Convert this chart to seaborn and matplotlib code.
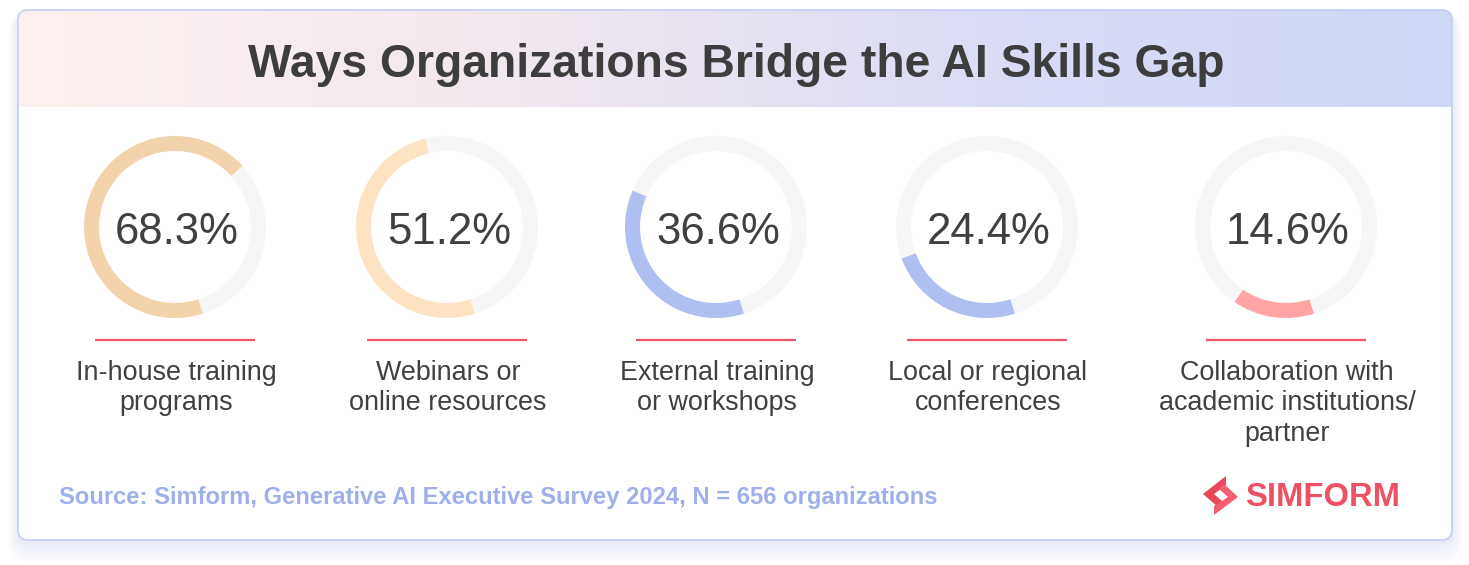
import numpy as np
import matplotlib
matplotlib.use("Agg")
import matplotlib.pyplot as plt
from matplotlib.patches import FancyBboxPatch, Polygon
from matplotlib.colors import LinearSegmentedColormap
import seaborn as sns

# ---- data ----
title = "Ways Organizations Bridge the AI Skills Gap"
values = [68.3, 51.2, 36.6, 24.4, 14.6]
value_labels = ["68.3%", "51.2%", "36.6%", "24.4%", "14.6%"]
categories = [
    ["In-house training", "programs"],
    ["Webinars or", "online resources"],
    ["External training", "or workshops"],
    ["Local or regional", "conferences"],
    ["Collaboration with", "academic institutions/", "partner"],
]
source = "Source: Simform, Generative AI Executive Survey 2024, N = 656 organizations"
brand = "SIMFORM"

# ---- style ----
sns.set_theme(style="white")
plt.rcParams["font.family"] = ["Liberation Sans", "DejaVu Sans"]
ring_colors = sns.color_palette(["#f2d3ab", "#fde3c2", "#b0bff2", "#b0bff2", "#ffa3a3"])
track_color = "#f6f6f6"
text_color = "#404040"

W, H = 1469, 565
fig = plt.figure(figsize=(W / 100, H / 100), dpi=100)
fig.patch.set_facecolor("white")
ax = fig.add_axes([0, 0, 1, 1])
ax.set_xlim(0, W)
ax.set_ylim(H, 0)
ax.axis("off")

# card geometry
cx0, cy0, cx1, cy1 = 18, 10, 1452, 540
rad = 10
# shadow
for i in range(10):
    g = 1 + i * 1.6
    sh = FancyBboxPatch((cx0 - g * 0.6, cy0 + 2), (cx1 - cx0) + g * 1.2, (cy1 - cy0) + g * 1.4,
                        boxstyle=f"round,pad=0,rounding_size={rad + g}",
                        facecolor="#c9d3fa", edgecolor="none", alpha=0.04, zorder=0)
    ax.add_patch(sh)

card = FancyBboxPatch((cx0, cy0), cx1 - cx0, cy1 - cy0,
                      boxstyle=f"round,pad=0,rounding_size={rad}",
                      facecolor="white", edgecolor="none", zorder=1)
ax.add_patch(card)

# header gradient
cmap = LinearSegmentedColormap.from_list(
    "hdr", [(0, "#fdf1ee"), (0.35, "#f1e7ef"), (0.7, "#d9dcf5"), (1.0, "#cfd8f5")])
grad = np.linspace(0, 1, 512).reshape(1, -1)
im = ax.imshow(grad, extent=[cx0, cx1, 107, cy0], cmap=cmap, aspect="auto", zorder=2,
               interpolation="bilinear")
im.set_clip_path(card)

border = FancyBboxPatch((cx0, cy0), cx1 - cx0, cy1 - cy0,
                        boxstyle=f"round,pad=0,rounding_size={rad}",
                        facecolor="none", edgecolor="#c6d0f7", linewidth=1.3, zorder=3)
ax.add_patch(border)

ax.text((cx0 + cx1) / 2 + 1, 77, title, ha="center", va="baseline", fontsize=33.3,
        fontweight="bold", color="#3d3d3d", zorder=4)

# donuts
centers_x = [175, 447, 716, 987, 1286]
cy = 227
R = 91
for i, (v, lab, cats) in enumerate(zip(values, value_labels, categories)):
    cxp = centers_x[i]
    dax = fig.add_axes([(cxp - R) / W, 1 - (cy + R) / H, 2 * R / W, 2 * R / H])
    dax.patch.set_alpha(0)
    dax.pie([v, 100 - v], colors=[ring_colors[i], track_color], startangle=-72,
            counterclock=False, radius=1,
            wedgeprops=dict(width=0.165, edgecolor="none", linewidth=0))
    dax.set_xlim(-1, 1)
    dax.set_ylim(-1, 1)
    dax.axis("off")
    ax.text(cxp + 2, 244, lab, ha="center", va="baseline", fontsize=31.5, color=text_color, zorder=5)
    ax.plot([cxp - 80, cxp + 80], [340, 340], color="#f0566a", linewidth=1.6,
            solid_capstyle="butt", zorder=5)
    for j, line in enumerate(cats):
        ax.text(cxp + 1, 380 + j * 30.5, line, ha="center", va="baseline", fontsize=19.4,
                color=text_color, zorder=5)

# source
ax.text(59, 504, source, ha="left", va="baseline", fontsize=17.15, fontweight="bold",
        color="#9fafec", zorder=5)

# logo
left_piece = [(1226, 476), (1203, 494), (1218, 507), (1223, 502), (1214, 494), (1226, 485)]
right_piece = [(1214, 515), (1238, 497), (1224, 484), (1219, 489), (1228, 497), (1214, 506)]
ax.add_patch(Polygon(left_piece, closed=True, facecolor="#e8475b", edgecolor="none", zorder=5))
ax.add_patch(Polygon(right_piece, closed=True, facecolor="#f35f70", edgecolor="none", zorder=5))
ax.text(1245, 506, brand, ha="left", va="baseline", fontsize=23.6, fontweight="bold",
        color="#ee5064", zorder=5)

fig.savefig("out.png", dpi=100, facecolor="white")
